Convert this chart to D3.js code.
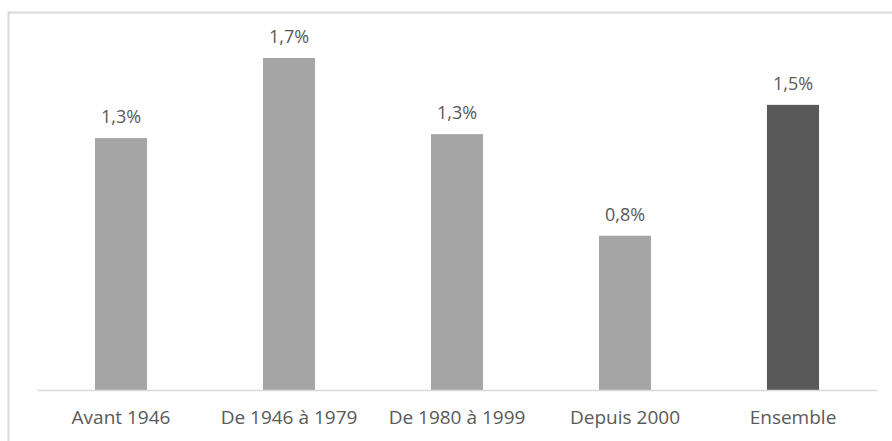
<!DOCTYPE html>
<meta charset='utf-8'>
<style>
body { margin: 0; background: #fff; }
text { font-family: 'Open Sans', 'Noto Sans', sans-serif; fill: #595959; }
</style>
<svg width='892' height='441'></svg>
<script src='https://cdn.jsdelivr.net/npm/d3@7'></script>
<script>
  var categories = ['Avant 1946', 'De 1946 à 1979', 'De 1980 à 1999', 'Depuis 2000', 'Ensemble'];
  var values = [1.29, 1.70, 1.31, 0.79, 1.46];
  var labels = ['1,3%', '1,7%', '1,3%', '0,8%', '1,5%'];

  var svg = d3.select('svg');

  // outer frame
  svg.append('rect')
    .attr('x', 8.5).attr('y', 12.5)
    .attr('width', 900).attr('height', 440)
    .attr('fill', 'none')
    .attr('stroke', '#d9d9d9')
    .attr('stroke-width', 2);

  var x = d3.scaleBand().domain(categories).range([37, 877]).paddingInner(0.69).paddingOuter(0.345);
  var y = d3.scaleLinear().domain([0, 1.7]).range([390, 58]);

  svg.selectAll('rect.bar')
    .data(categories)
    .enter().append('rect')
      .attr('class', 'bar')
      .attr('x', d => x(d))
      .attr('width', x.bandwidth())
      .attr('y', (d, i) => y(values[i]))
      .attr('height', (d, i) => y(0) - y(values[i]))
      .attr('fill', (d, i) => i === categories.length - 1 ? '#595959' : '#a5a5a5');

  svg.selectAll('text.val')
    .data(categories)
    .enter().append('text')
      .attr('class', 'val')
      .attr('x', d => x(d) + x.bandwidth() / 2)
      .attr('y', (d, i) => y(values[i]) - 15)
      .attr('text-anchor', 'middle')
      .style('font-size', '18px')
      .text((d, i) => labels[i]);

  var axis = svg.append('g')
    .attr('transform', 'translate(0,390)')
    .call(d3.axisBottom(x).tickSize(0).tickPadding(21));
  axis.select('.domain').attr('stroke', '#d9d9d9').attr('stroke-width', 1.5);
  axis.selectAll('text').style('font-size', '19px').attr('fill', '#595959')
    .style('font-family', "'Open Sans', sans-serif");
</script>
